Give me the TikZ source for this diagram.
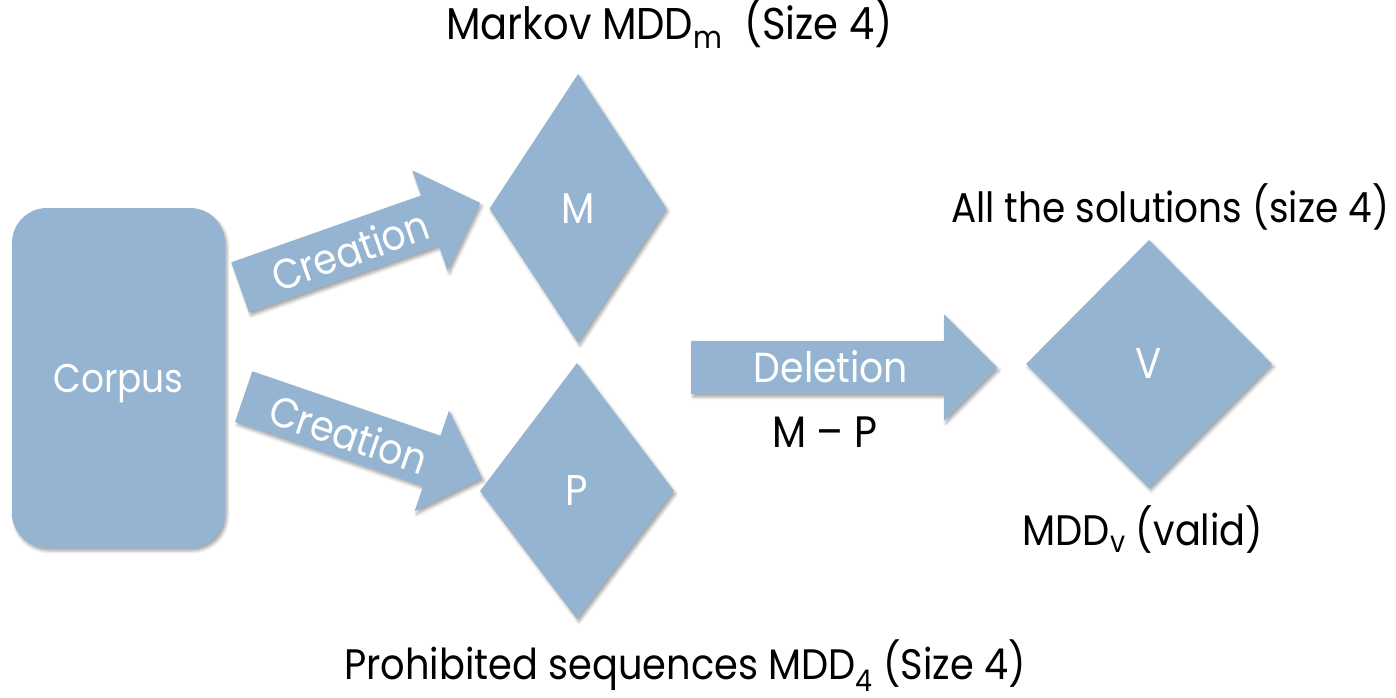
\documentclass[tikz,border=0pt]{standalone}
\usepackage{fontspec}
\setmainfont{Poppins}[FakeStretch=0.9]
\usetikzlibrary{shapes.geometric,shapes.arrows,shadows.blur}
\definecolor{boxblue}{RGB}{148,180,209}
\newcommand{\fsz}[1]{\fontsize{#1}{#1}\selectfont}
\begin{document}
\begin{tikzpicture}[x=1pt,y=-1pt,
  softshadow/.style={blur shadow={shadow xshift=2pt,shadow yshift=-3pt,shadow blur radius=3pt,shadow opacity=35}},
  blockfill/.style={fill=boxblue,draw=none,softshadow,inner sep=0pt},
  arrowshape/.style={blockfill,single arrow,inner xsep=0pt,inner ysep=26.5pt,single arrow head extend=26.5pt},
  diam/.style={blockfill,diamond,text=white,text depth=0pt,font=\fsz{43}},
  intext/.style={text=white,inner sep=0pt,text depth=0pt},
  lbl/.style={text=black,inner sep=0pt,anchor=base}]
\useasboundingbox (0,0) rectangle (1396,698);
% corpus
\node[blockfill,rounded corners=35pt,minimum width=213pt,minimum height=340pt,text=white,text depth=0pt,font=\fsz{40}] (corpus) at (118.5,378) {Corpus};
% diamonds
\node[diam,minimum width=177pt,minimum height=269pt] (M) at (578,208.5) {M};
\node[diam,minimum width=194pt,minimum height=256pt] (P) at (577,491) {P};
\node[diam,minimum width=246pt,minimum height=248pt] (V) at (1149,364) {V};
% block arrows
\node[arrowshape,minimum height=254.4pt,rotate=19.4,anchor=tail] (a1) at (240,287.5) {};
\node[arrowshape,minimum height=252pt,rotate=-18.9,anchor=tail] (a2) at (243.5,396.5) {};
\node[arrowshape,minimum height=306pt,anchor=tail] (a3) at (691,367.5) {};
% arrow texts
\node[intext,rotate=19.4,font=\fsz{42}] (c1) at (350,250) {Creation};
\node[intext,rotate=-18.9,font=\fsz{42}] (c2) at (349,434) {Creation};
\node[intext,anchor=base,font=\fsz{42}] (del) at (831,382) {Deletion};
% labels
\node[lbl,font=\fsz{44.5}] (mk) at (669.5,40) {Markov MDD\textsubscript{m}\ \ (Size 4)};
\node[lbl,font=\fsz{41.6}] (all) at (1170,222) {All the solutions (size 4)};
\node[lbl,font=\fsz{42.7}] (mddv) at (1143,545) {MDD\textsubscript{v} (valid)};
\node[lbl,font=\fsz{44}] (mp) at (824.5,447) {M – P};
\node[lbl,font=\fsz{42.6}] (pro) at (685,679) {Prohibited sequences MDD\textsubscript{4} (Size 4)};
\end{tikzpicture}
\end{document}
